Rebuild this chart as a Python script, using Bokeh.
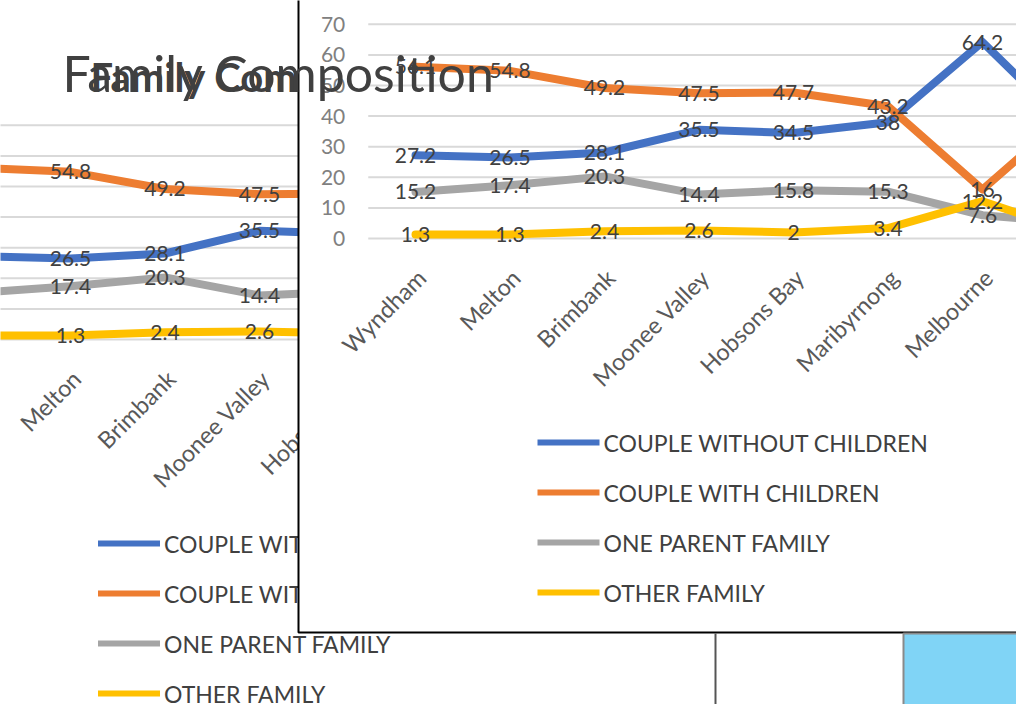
import math
from bokeh.plotting import figure
from bokeh.models import Range1d, Label
from bokeh.core.properties import value
from bokeh.embed import file_html
from bokeh.resources import INLINE

# ---------------- data ----------------
categories = ["Wyndham", "Melton", "Brimbank", "Moonee Valley", "Hobsons Bay",
              "Maribyrnong", "Melbourne", "Victoria"]
series_names = ["COUPLE WITHOUT CHILDREN", "COUPLE WITH CHILDREN",
                "ONE PARENT FAMILY", "OTHER FAMILY"]
couple_without_children = [27.2, 26.5, 28.1, 35.5, 34.5, 38, 64.2, 34]
couple_with_children = [56.1, 54.8, 49.2, 47.5, 47.7, 43.2, 16, 43]
one_parent_family = [15.2, 17.4, 20.3, 14.4, 15.8, 15.3, 7.6, 5]
other_family = [1.3, 1.3, 2.4, 2.6, 2, 3.4, 12.2, 1.8]
y_ticks = [0, 10, 20, 30, 40, 50, 60, 70]
title_text = "Family Composition"

series_values = [couple_without_children, couple_with_children,
                 one_parent_family, other_family]
series_colors = ["#4472C4", "#ED7D31", "#A5A5A5", "#FFC000"]

# ---------------- layout ----------------
W, H = 1016, 704
STEP_X = 94.5             # px per category
STEP_Y = 3.06             # px per unit
FONT = "Lato"

p = figure(width=W, height=H, output_backend="svg", toolbar_location=None,
           x_axis_type=None, y_axis_type=None,
           x_range=Range1d(0, W), y_range=Range1d(H, 0),
           min_border=0, outline_line_color=None,
           background_fill_color="white", border_fill_color="white")
p.grid.visible = False


def add_chart(tag, x0, y0, level, label_idx, cat_idx, show_y_ticks):
    """x0: pixel x of first category, y0: pixel y of value 0."""
    xn, yn = "x_" + tag, "y_" + tag
    p.extra_x_ranges[xn] = Range1d((0 - x0) / STEP_X, (W - x0) / STEP_X)
    p.extra_y_ranges[yn] = Range1d((y0 - H) / STEP_Y, (y0 - 0) / STEP_Y)
    rs = []
    n = len(categories)
    idx = list(range(n))
    # gridlines
    rs.append(p.segment(x0=[-0.5] * len(y_ticks), y0=y_ticks,
                        x1=[n - 0.5] * len(y_ticks), y1=y_ticks,
                        line_color="#d9d9d9", line_width=2,
                        x_range_name=xn, y_range_name=yn))
    # y tick labels
    if show_y_ticks:
        rs.append(p.text(x=[-0.5] * len(y_ticks), y=y_ticks,
                         text=[str(t) for t in y_ticks],
                         x_offset=-23, text_align="right",
                         text_baseline="middle",
                         text_font=value(FONT), text_font_size="21px",
                         text_color="#808080",
                         x_range_name=xn, y_range_name=yn))
    # category labels
    rs.append(p.text(x=cat_idx, y=[0] * len(cat_idx),
                     text=[categories[i] for i in cat_idx],
                     angle=math.pi / 4, x_offset=6, y_offset=35,
                     text_align="right", text_baseline="middle",
                     text_font=value(FONT), text_font_size="23.5px",
                     text_color="#595959", x_range_name=xn, y_range_name=yn))
    # lines
    for vals, col in zip(series_values, series_colors):
        rs.append(p.line(x=idx, y=vals, line_color=col, line_width=8,
                         line_join="round", line_cap="round",
                         x_range_name=xn, y_range_name=yn))
    # data labels
    for vals in series_values:
        rs.append(p.text(x=label_idx, y=[vals[i] for i in label_idx],
                         text=[f"{vals[i]:g}" for i in label_idx],
                         text_align="center", text_baseline="middle",
                         text_font=value(FONT), text_font_size="21px",
                         text_color="#404040",
                         x_range_name=xn, y_range_name=yn))
    # legend (pixel coordinates relative to the chart origin)
    lx0, lx1, ly0, ldy = x0 + 122, x0 + 184, y0 + 204, 50
    ys = [ly0 + k * ldy for k in range(len(series_names))]
    rs.append(p.segment(x0=[lx0] * 4, y0=ys, x1=[lx1] * 4, y1=ys,
                        line_color=series_colors, line_width=6))
    rs.append(p.text(x=[lx1 + 4] * 4, y=ys, text=series_names,
                     text_align="left", text_baseline="middle",
                     text_font=value(FONT), text_font_size="23px",
                     text_color="#404040"))
    for r in rs:
        r.level = level
    return rs


# back chart (partially hidden behind the front panel)
add_chart("back", -24.5, 339, "image",
          label_idx=[1, 2, 3], cat_idx=[1, 2, 3, 4], show_y_ticks=False)
bt = p.text(x=[90], y=[76], text=[title_text], text_align="left",
            text_baseline="alphabetic", text_font=value(FONT),
            text_font_size="40px", text_font_style="bold", text_color="#404040")
bt.level = "image"

# front panel
panel = p.quad(left=[298], right=[1100], top=[-20], bottom=[632],
               fill_color="white", line_color="black", line_width=2)
panel.level = "underlay"
# decorations below the panel
d1 = p.segment(x0=[715], y0=[633], x1=[715], y1=[720],
               line_color="#555555", line_width=2)
d2 = p.quad(left=[903], right=[1100], top=[633], bottom=[720],
            fill_color="#80D4F6", line_color="#8a8a8a", line_width=2)
d1.level = "underlay"
d2.level = "underlay"

# front chart
add_chart("front", 415, 238, "glyph",
          label_idx=[0, 1, 2, 3, 4, 5, 6], cat_idx=list(range(len(categories))),
          show_y_ticks=True)

# overlay title
p.add_layout(Label(x=62, y=72, text=title_text, text_font=FONT,
                   text_font_size="50px", text_color="#404040",
                   text_baseline="alphabetic", text_align="left"))

open("out.html", "w").write(file_html(p, INLINE))
